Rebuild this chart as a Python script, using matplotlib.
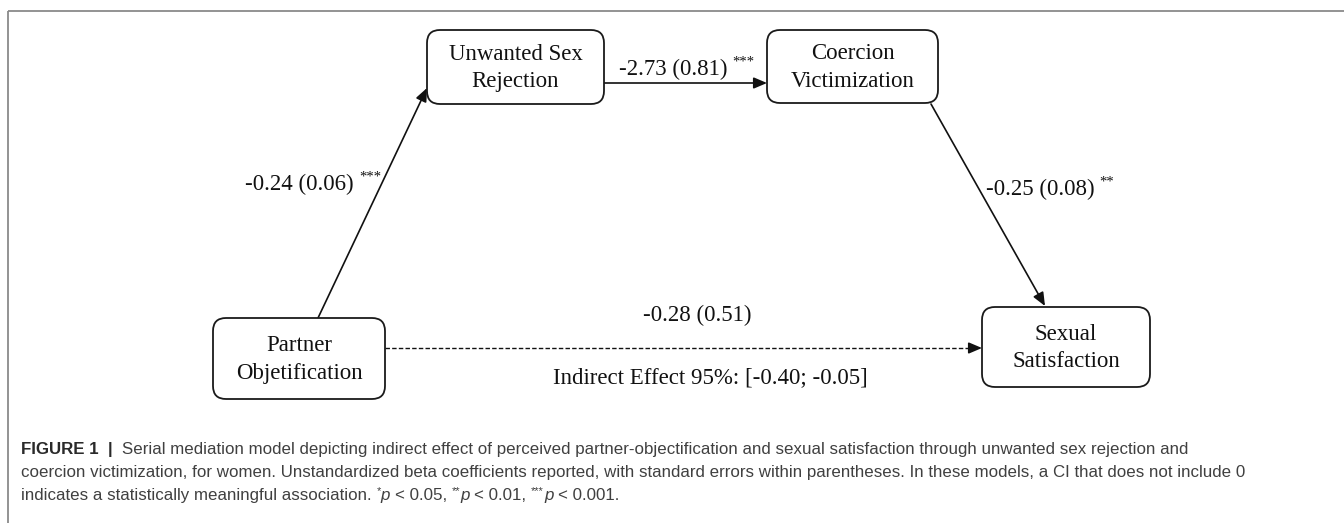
import matplotlib
matplotlib.use("Agg")
import matplotlib.pyplot as plt
from matplotlib.patches import FancyBboxPatch, Rectangle, FancyArrowPatch

# ---------------- data ----------------
node_labels = ["Partner\nObjetification", "Unwanted Sex\nRejection",
               "Coercion\nVictimization", "Sexual\nSatisfaction"]
path_from = [0, 1, 2, 0]
path_to = [1, 2, 3, 3]
path_coef = [-0.24, -2.73, -0.25, -0.28]
path_se = [0.06, 0.81, 0.08, 0.51]
path_sig = ["***", "***", "**", ""]
indirect_ci = [-0.40, -0.05]
caption_lines = [
    [("FIGURE 1", "bold"), ("  |  ", "bar"),
     ("Serial mediation model depicting indirect effect of perceived partner-objectification "
      "and sexual satisfaction through unwanted sex rejection and", "normal")],
    [("coercion victimization, for women. Unstandardized beta coefficients reported, with "
      "standard errors within parentheses. In these models, a CI that does not include 0", "normal")],
    [("indicates a statistically meaningful association. ", "normal"),
     ("*", "sup"), ("p", "italic"), (" < 0.05, ", "normal"),
     ("**", "sup"), ("p", "italic"), (" < 0.01, ", "normal"),
     ("***", "sup"), ("p", "italic"), (" < 0.001.", "normal")],
]

# ---------------- layout (pixels) ----------------
W, H = 1344, 523
boxes = [  # x0, y0, x1, y1
    (213, 318, 385, 399),
    (427, 30, 604, 104),
    (767, 30, 938, 103),
    (982, 307, 1150, 387),
]
SERIF = "Liberation Serif"
SANS = "Liberation Sans"
fs_diag = 16.5
fs_cap = 12.15
ink = "#111111"

fig = plt.figure(figsize=(W / 100, H / 100), dpi=100)
ax = fig.add_axes([0, 0, 1, 1])
ax.set_xlim(0, W)
ax.set_ylim(H, 0)
ax.axis("off")
r = fig.canvas.get_renderer()

# outer frame
ax.add_patch(Rectangle((8, 11), W + 20, H + 20, fill=False, ec="#8a8a8a", lw=1.3))

# boxes
for (x0, y0, x1, y1), lab in zip(boxes, node_labels):
    ax.add_patch(FancyBboxPatch((x0, y0), x1 - x0, y1 - y0,
                                boxstyle="round,pad=0,rounding_size=13",
                                fc="white", ec="#1a1a1a", lw=1.3, zorder=3))
    ax.text((x0 + x1) / 2, (y0 + y1) / 2 + 1, lab, ha="center", va="center",
            family=SERIF, fontsize=fs_diag, linespacing=1.38, color=ink, zorder=4)


def arrow(p0, p1, dashed=False):
    if dashed:
        ax.plot([p0[0], p1[0] - 8], [p0[1], p1[1]], color=ink, lw=1.0,
                dashes=(3.2, 1.6), zorder=2)
        p0 = (p1[0] - 10, p1[1])
    a = FancyArrowPatch(p0, p1, arrowstyle="-|>,head_length=8,head_width=3.4",
                        mutation_scale=1, lw=1.2, color=ink,
                        shrinkA=0, shrinkB=0, zorder=2)
    ax.add_patch(a)


# paths
arrow((318, 318), (427, 88))
arrow((604, 83), (767, 83))
arrow((931, 104), (1045, 306))
arrow((385, 348), (982, 348), dashed=True)


def coef_label(x, y, i, ha="left"):
    main = f"{path_coef[i]:.2f} ({path_se[i]:.2f})"
    t = ax.text(x, y, main, ha="left", va="baseline", family=SERIF,
                fontsize=fs_diag, color=ink)
    w = t.get_window_extent(renderer=r).width
    sw = 0
    if path_sig[i]:
        s = ax.text(0, 0, path_sig[i], family=SERIF, fontsize=10.5)
        sw = s.get_window_extent(renderer=r).width + 5
        s.remove()
    total = w + sw
    if ha == "right":
        x0 = x - total
    elif ha == "center":
        x0 = x - total / 2
    else:
        x0 = x
    t.set_x(x0)
    if path_sig[i]:
        ax.text(x0 + w + 5, y - 9, path_sig[i], ha="left", va="baseline",
                family=SERIF, fontsize=10.5, color=ink)


coef_label(381, 190, 0, ha="right")
coef_label(619, 75, 1)
coef_label(986, 195, 2)
coef_label(697, 321, 3, ha="center")
ax.text(710, 383, f"Indirect Effect 95%: [{indirect_ci[0]:.2f}; {indirect_ci[1]:.2f}]",
        ha="center", va="baseline", family=SERIF, fontsize=fs_diag, color=ink)


# caption
def width_of(s, **kw):
    t = ax.text(0, 0, s, **kw)
    w = t.get_window_extent(renderer=r).width
    t.remove()
    return w


cap_col = "#404040"
baselines = [454, 477, 500]
for line, yb in zip(caption_lines, baselines):
    x = 21
    for s, sty in line:
        kw = dict(family=SANS, fontsize=fs_cap, color=cap_col)
        dy = 0
        if sty in ("bold", "bar"):
            kw.update(fontweight="bold", color="#2a2a2a")
        elif sty == "italic":
            kw.update(fontstyle="italic")
        elif sty == "sup":
            kw.update(fontsize=fs_cap * 0.65)
            dy = -6
        lead = len(s) - len(s.lstrip(" "))
        trail = len(s) - len(s.rstrip(" "))
        core = s.strip(" ")
        sp = width_of("a a", **kw) - width_of("aa", **kw)
        x += lead * sp
        t = ax.text(x, yb + dy, core, ha="left", va="baseline", **kw)
        x += t.get_window_extent(renderer=r).width + trail * sp

fig.savefig("out.png", dpi=100, facecolor="white")
